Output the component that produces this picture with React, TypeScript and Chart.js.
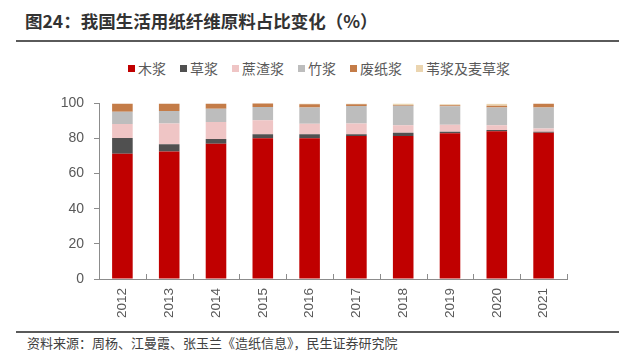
import React, { useEffect, useRef } from "react";
import { Chart, registerables } from "chart.js";

Chart.register(...registerables);

const years = ["2012", "2013", "2014", "2015", "2016", "2017", "2018", "2019", "2020", "2021"];
const seriesNames = ["木浆", "草浆", "蔗渣浆", "竹浆", "废纸浆", "苇浆及麦草浆"];
const woodPulp = [71.3, 72.6, 77.0, 80.2, 80.2, 81.5, 81.5, 83.0, 84.2, 83.3];
const strawPulp = [9.0, 4.2, 2.7, 2.2, 2.2, 0.9, 1.8, 0.9, 0.6, 0.6];
const bagassePulp = [8.0, 11.7, 9.7, 8.0, 6.0, 6.1, 4.3, 4.0, 2.8, 1.8];
const bambooPulp = [7.0, 7.2, 7.6, 7.6, 9.3, 10.0, 11.0, 10.5, 10.0, 12.0];
const wastePulp = [4.7, 4.3, 3.0, 2.2, 1.8, 1.0, 0.5, 0.5, 1.0, 2.2];
const reedPulp = [0, 0, 0, 0, 0.4, 0.5, 0.9, 0.6, 1.2, 0.1];
const yTicks = [0, 20, 40, 60, 80, 100];

const colors = ["#C00000", "#505050", "#EFC5C5", "#BDBDBD", "#C47C48", "#EBD5B0"];
const seriesData = [woodPulp, strawPulp, bagassePulp, bambooPulp, wastePulp, reedPulp];

const categoryTicks = {
  id: "categoryTicks",
  afterDraw(chart: any) {
    const xs = chart.scales.x;
    const ctx = chart.ctx;
    const n = years.length;
    const step = (xs.right - xs.left) / n;
    ctx.save();
    ctx.strokeStyle = "#8C8C8C";
    ctx.lineWidth = 1;
    for (let i = 1; i <= n; i++) {
      const x = Math.round(xs.left + i * step) + 0.5;
      ctx.beginPath();
      ctx.moveTo(x, xs.top - 5);
      ctx.lineTo(x, xs.top);
      ctx.stroke();
    }
    ctx.restore();
  },
};

export default function App() {
  const ref = useRef<HTMLCanvasElement>(null);
  useEffect(() => {
    const chart = new Chart(ref.current!, {
      type: "bar",
      data: {
        labels: years,
        datasets: seriesNames.map((name, i) => ({
          label: name,
          data: seriesData[i],
          backgroundColor: colors[i],
          borderWidth: 0,
          categoryPercentage: 1,
          barPercentage: 0.44,
        })),
      },
      options: {
        animation: false,
        responsive: false,
        maintainAspectRatio: false,
        layout: { padding: { top: 13, right: 68, left: 0, bottom: 0 } },
        plugins: { legend: { display: false }, tooltip: { enabled: false } },
        scales: {
          x: {
            stacked: true,
            grid: { display: false, drawTicks: false },
            border: { display: true, color: "#8C8C8C", width: 1 },
            ticks: {
              minRotation: 90,
              maxRotation: 90,
              padding: 9,
              color: "#595959",
              font: { family: "'Liberation Sans', Arial, sans-serif", size: 13.5 },
            },
            afterFit(scale: any) {
              scale.height = 51;
            },
          },
          y: {
            stacked: true,
            min: 0,
            max: 100,
            afterBuildTicks(scale: any) {
              scale.ticks = yTicks.map((v) => ({ value: v }));
            },
            grid: { display: true, drawOnChartArea: false, drawTicks: true, tickLength: 5, color: "#8C8C8C" },
            border: { display: true, color: "#8C8C8C", width: 1 },
            ticks: {
              padding: 10,
              color: "#595959",
              font: { family: "'Liberation Sans', Arial, sans-serif", size: 14 },
            },
            afterFit(scale: any) {
              scale.width = 99;
            },
          },
        },
      },
      plugins: [categoryTicks],
    });
    return () => chart.destroy();
  }, []);

  const cjk = "'Noto Sans CJK SC', 'Noto Sans', sans-serif";
  return (
    <div style={{ position: "fixed", left: 0, top: 0, width: 635, height: 364, background: "#fff", overflow: "hidden" }}>
      <div
        style={{
          position: "absolute",
          left: 25,
          top: 8,
          fontFamily: cjk,
          fontWeight: 700,
          fontSize: 17.5,
          lineHeight: "26px",
          color: "#333",
          whiteSpace: "nowrap",
        }}
      >
        图24：我国生活用纸纤维原料占比变化（%）
      </div>
      <div style={{ position: "absolute", left: 16, top: 40, width: 603, height: 2, background: "#5a5a5a" }} />
      <div
        style={{
          position: "absolute",
          left: 128,
          top: 58,
          display: "flex",
          alignItems: "center",
          fontFamily: cjk,
          fontSize: 14,
          lineHeight: "20px",
          color: "#595959",
          whiteSpace: "nowrap",
        }}
      >
        {seriesNames.map((name, i) => (
          <div key={name} style={{ display: "flex", alignItems: "center", marginRight: 14 }}>
            <span style={{ display: "inline-block", width: 7, height: 7, background: colors[i], marginRight: 3 }} />
            <span>{name}</span>
          </div>
        ))}
      </div>
      <canvas ref={ref} width={635} height={245} style={{ position: "absolute", left: 0, top: 85, width: 635, height: 245 }} />
      <div style={{ position: "absolute", left: 16, top: 331, width: 603, height: 2, background: "#5a5a5a" }} />
      <div
        style={{
          position: "absolute",
          left: 27,
          top: 334,
          fontFamily: cjk,
          fontSize: 13,
          lineHeight: "18px",
          color: "#404040",
          whiteSpace: "nowrap",
        }}
      >
        资料来源：周杨、江曼霞、张玉兰《造纸信息》，民生证券研究院
      </div>
    </div>
  );
}
